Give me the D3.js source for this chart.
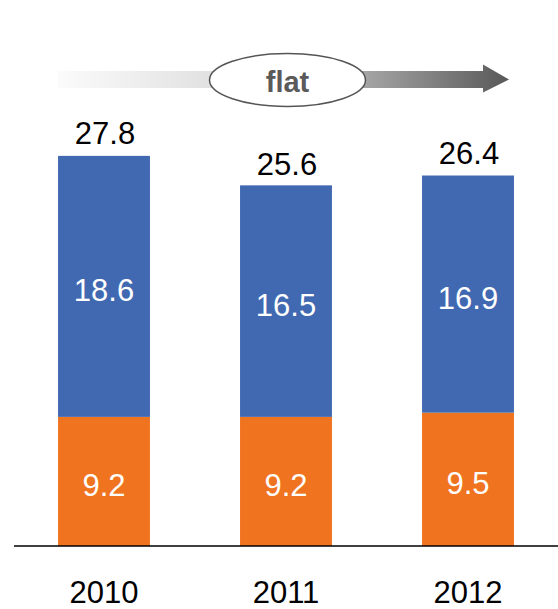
<!DOCTYPE html>
<html>
<head>
<meta charset="utf-8">
<script src="https://cdn.jsdelivr.net/npm/d3@7"></script>
<style>
  html, body { margin: 0; padding: 0; background: #fff; }
  svg { display: block; font-family: "Liberation Sans", Arial, sans-serif; }
</style>
</head>
<body>
<svg id="chart" width="558" height="609"></svg>
<script>
// Stacked values per year
const years = ["2010", "2011", "2012"];
const lowerValues = [9.2, 9.2, 9.5];     // orange segment
const upperValues = [18.6, 16.5, 16.9];  // blue segment
const totals = [27.8, 25.6, 26.4];
const trendLabel = "flat";

const colors = { lower: "#f07320", upper: "#4169b1" };

const svg = d3.select("#chart");
const W = 558;
const fontSize = 31;

const x = d3.scaleBand()
  .domain(years)
  .range([14, 558])
  .paddingInner(0.495)
  .paddingOuter(0.242);

const y = d3.scaleLinear().domain([0, 30]).range([546, 125]);

const rows = years.map((yr, i) => ({
  year: yr, lower: lowerValues[i], upper: upperValues[i], total: totals[i]
}));
const series = d3.stack().keys(["lower", "upper"])(rows);

// Trend arrow with gradient
const defs = svg.append("defs");
const grad = defs.append("linearGradient")
  .attr("id", "arrowGrad")
  .attr("gradientUnits", "userSpaceOnUse")
  .attr("x1", 58).attr("x2", 510).attr("y1", 0).attr("y2", 0);
grad.append("stop").attr("offset", "0").attr("stop-color", "#fbfbfb");
grad.append("stop").attr("offset", "0.33").attr("stop-color", "#e2e2e2");
grad.append("stop").attr("offset", "0.68").attr("stop-color", "#a4a4a4");
grad.append("stop").attr("offset", "1").attr("stop-color", "#585858");

const ay = 79.5;
const arrowPath = d3.path();
arrowPath.moveTo(58, ay - 8.5);
arrowPath.lineTo(483, ay - 8.5);
arrowPath.lineTo(483, ay - 15);
arrowPath.lineTo(509, ay);
arrowPath.lineTo(483, ay + 13);
arrowPath.lineTo(483, ay + 8.5);
arrowPath.lineTo(58, ay + 8.5);
arrowPath.closePath();
svg.append("path").attr("d", arrowPath.toString()).attr("fill", "url(#arrowGrad)");

svg.append("ellipse")
  .attr("cx", 287.5).attr("cy", 80)
  .attr("rx", 78).attr("ry", 26.5)
  .attr("fill", "#fff")
  .attr("stroke", "#555")
  .attr("stroke-width", 1.5);

svg.append("text")
  .attr("x", 287.5).attr("y", 92)
  .attr("text-anchor", "middle")
  .attr("font-size", 29).attr("font-weight", "bold")
  .attr("fill", "#5a5a5a")
  .text(trendLabel);

// Bars
const layers = svg.append("g").selectAll("g")
  .data(series).join("g")
  .attr("fill", d => colors[d.key]);

layers.selectAll("rect")
  .data(d => d).join("rect")
  .attr("x", d => x(d.data.year))
  .attr("width", x.bandwidth())
  .attr("y", d => y(d[1]))
  .attr("height", d => y(d[0]) - y(d[1]));

// Segment labels
layers.selectAll("text")
  .data(d => d).join("text")
  .attr("x", d => x(d.data.year) + x.bandwidth() / 2)
  .attr("y", d => (y(d[0]) + y(d[1])) / 2 + 4)
  .attr("dy", "0.35em")
  .attr("text-anchor", "middle")
  .attr("font-size", fontSize)
  .attr("fill", "#fff")
  .text(d => d3.format(".1f")(d[1] - d[0]));

// Total labels
svg.append("g").selectAll("text")
  .data(rows).join("text")
  .attr("x", d => x(d.year) + x.bandwidth() / 2 + 1)
  .attr("y", d => y(d.total) - 12)
  .attr("text-anchor", "middle")
  .attr("font-size", fontSize)
  .attr("fill", "#000")
  .text(d => d3.format(".1f")(d.total));

// Baseline
svg.append("line")
  .attr("x1", 14).attr("x2", W)
  .attr("y1", y(0)).attr("y2", y(0))
  .attr("stroke", "#000").attr("stroke-width", 1.5);

// Category axis labels
const xAxis = svg.append("g")
  .attr("transform", `translate(0,${y(0)})`)
  .call(d3.axisBottom(x).tickSize(0).tickPadding(0));
xAxis.select(".domain").remove();
xAxis.selectAll("text")
  .attr("y", 57)
  .attr("dy", 0)
  .attr("font-size", fontSize)
  .attr("font-family", "Liberation Sans, Arial, sans-serif")
  .attr("fill", "#000");
</script>
</body>
</html>
